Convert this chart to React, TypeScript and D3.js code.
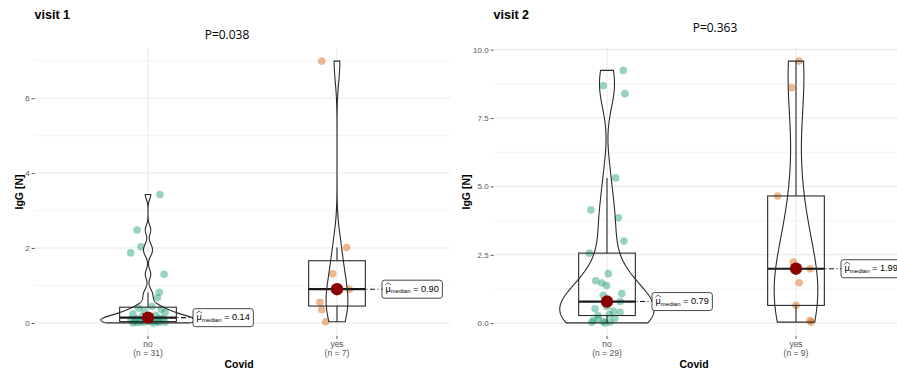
import { useEffect, useRef } from "react";
import * as d3 from "d3";

const categories = ["no", "yes"];
const groupColors = ["#1B9E77", "#D95F02"];

// visit 1: IgG values and the horizontal jitter (category units)
const v1NoValues = [3.43, 2.48, 2.03, 1.87, 1.3, 0.82, 0.67, 0.44, 0.4, 0.36, 0.32, 0.28, 0.24, 0.2, 0.17, 0.14, 0.12, 0.11, 0.1, 0.08, 0.06, 0.05, 0.04, 0.03, 0.03, 0.02, 0.02, 0.01, 0.01, 0.0, 0.0];
const v1NoJitter = [0.063, -0.058, -0.037, -0.092, 0.085, 0.06, 0.05, 0.02, -0.05, 0.07, -0.02, 0.09, -0.08, 0.04, -0.03, 0.0, 0.06, -0.06, 0.08, -0.09, 0.03, -0.04, 0.05, -0.07, 0.01, 0.09, -0.02, 0.06, -0.05, 0.03, -0.08];
const v1YesValues = [6.99, 2.01, 1.31, 0.9, 0.55, 0.35, 0.03];
const v1YesJitter = [-0.081, 0.051, -0.023, 0.065, -0.09, -0.081, -0.06];

// visit 2
const v2NoValues = [9.24, 8.68, 8.39, 5.31, 4.14, 3.85, 3.0, 2.56, 1.81, 1.55, 1.47, 1.38, 1.08, 1.02, 0.79, 0.75, 0.61, 0.53, 0.44, 0.4, 0.32, 0.28, 0.18, 0.16, 0.1, 0.06, 0.04, 0.03, 0.01];
const v2NoJitter = [0.086, -0.02, 0.095, 0.046, -0.085, 0.06, 0.09, -0.094, 0.007, -0.06, -0.028, -0.002, 0.078, -0.02, 0.07, -0.01, -0.002, -0.063, 0.033, 0.069, 0.012, -0.048, 0.042, -0.046, -0.072, -0.02, 0.016, -0.081, -0.01];
const v2YesValues = [9.58, 8.61, 4.65, 2.23, 1.99, 1.48, 0.65, 0.1, 0.04];
const v2YesJitter = [0.016, -0.023, -0.097, -0.014, 0.074, 0.017, 0.0, 0.074, 0.08];

const v1Ticks = [0, 2, 4, 6];
const v1Minor = [1, 3, 5, 7];
const v2Ticks = [0, 2.5, 5, 7.5, 10];
const v2Minor = [1.25, 3.75, 6.25, 8.75];

const panels = [
  {
    title: "visit 1", pText: "P=0.038", pX: 227, pY: 39,
    xRange: [34.6, 450.4], yLabelX: 23, xTitleX: 239,
    ticks: v1Ticks, minor: v1Minor, fmt: d3.format("d"),
    groups: [
      { values: v1NoValues, jitter: v1NoJitter },
      { values: v1YesValues, jitter: v1YesJitter },
    ],
  },
  {
    title: "visit 2", pText: "P=0.363", pX: 715, pY: 32,
    xRange: [493.6, 909.4], yLabelX: 470, xTitleX: 694,
    ticks: v2Ticks, minor: v2Minor, fmt: d3.format(".1f"),
    groups: [
      { values: v2NoValues, jitter: v2NoJitter },
      { values: v2YesValues, jitter: v2YesJitter },
    ],
  },
];

const gauss = (u: number) => Math.exp(-0.5 * u * u) / Math.sqrt(2 * Math.PI);

const bwNrd0 = (s: number[]) => {
  const hi = d3.deviation(s) as number;
  const iqr = (d3.quantileSorted(s, 0.75) as number) - (d3.quantileSorted(s, 0.25) as number);
  let lo = Math.min(hi, iqr / 1.34);
  if (!lo) lo = hi || Math.abs(s[0]) || 1;
  return 0.9 * lo * Math.pow(s.length, -0.2);
};

const density = (values: number[]) => {
  const s = values.slice().sort(d3.ascending);
  const bw = bwNrd0(s);
  const lo = s[0];
  const hi = s[s.length - 1];
  return d3.range(512).map((i) => {
    const y = lo + ((hi - lo) * i) / 511;
    return { y, d: (d3.mean(s, (v) => gauss((y - v) / bw)) as number) / bw };
  });
};

const boxStats = (values: number[]) => {
  const s = values.slice().sort(d3.ascending);
  const q1 = d3.quantileSorted(s, 0.25) as number;
  const med = d3.quantileSorted(s, 0.5) as number;
  const q3 = d3.quantileSorted(s, 0.75) as number;
  const iqr = q3 - q1;
  const lw = d3.min(s.filter((v) => v >= q1 - 1.5 * iqr)) as number;
  const hw = d3.max(s.filter((v) => v <= q3 + 1.5 * iqr)) as number;
  return { q1, med, q3, lw, hw };
};

const App = () => {
  const svgRef = useRef<SVGSVGElement>(null);

  useEffect(() => {
    const svg = d3.select(svgRef.current);
    svg.selectAll("*").remove();
    const top = 48;
    const bottom = 336;
    const sans = "'Liberation Sans', Arial, sans-serif";
    const ink = "#2b2b2b";

    panels.forEach((p) => {
      const all = p.groups.flatMap((g) => g.values);
      const lo = d3.min(all) as number;
      const hi = d3.max(all) as number;
      const pad = (hi - lo) * 0.05;
      const y = d3.scaleLinear().domain([lo - pad, hi + pad]).range([bottom, top]);
      const x = d3.scaleLinear().domain([0.4, 2.6]).range(p.xRange);
      const g = svg.append("g");

      // grid
      g.selectAll(".minor").data(p.minor).enter().append("line")
        .attr("x1", p.xRange[0]).attr("x2", p.xRange[1])
        .attr("y1", (d) => y(d)).attr("y2", (d) => y(d))
        .attr("stroke", "#f0f0f0").attr("stroke-width", 0.8);
      g.selectAll(".major").data(p.ticks).enter().append("line")
        .attr("x1", p.xRange[0]).attr("x2", p.xRange[1])
        .attr("y1", (d) => y(d)).attr("y2", (d) => y(d))
        .attr("stroke", "#e8e8e8").attr("stroke-width", 1);
      g.selectAll(".vgrid").data(categories).enter().append("line")
        .attr("x1", (_, i) => x(i + 1)).attr("x2", (_, i) => x(i + 1))
        .attr("y1", top).attr("y2", bottom)
        .attr("stroke", "#e8e8e8").attr("stroke-width", 1);

      // y axis
      const yAxis = d3.axisLeft(y).tickValues(p.ticks).tickFormat((d) => p.fmt(d as number)).tickSize(3).tickPadding(2);
      const ya = g.append("g").attr("transform", `translate(${p.xRange[0]},0)`).call(yAxis);
      ya.select(".domain").remove();
      ya.selectAll("line").attr("stroke", "#555");
      ya.selectAll("text").attr("fill", "#555").style("font-family", sans).style("font-size", "8px");

      // x axis ticks and labels
      categories.forEach((c, i) => {
        const cx = x(i + 1);
        g.append("line").attr("x1", cx).attr("x2", cx).attr("y1", bottom).attr("y2", bottom + 3).attr("stroke", "#555");
        g.append("text").attr("x", cx).attr("y", 346.5).attr("text-anchor", "middle")
          .attr("fill", "#555").style("font-family", sans).style("font-size", "8.5px").text(c);
        g.append("text").attr("x", cx).attr("y", 355.5).attr("text-anchor", "middle")
          .attr("fill", "#555").style("font-family", sans).style("font-size", "8.5px")
          .text(`(n = ${p.groups[i].values.length})`);
      });

      // titles
      g.append("text").attr("x", p.xTitleX).attr("y", 368).attr("text-anchor", "middle")
        .style("font-family", sans).style("font-weight", "bold").style("font-size", "10.5px").text("Covid");
      g.append("text").attr("transform", `translate(${p.yLabelX},${(top + bottom) / 2}) rotate(-90)`)
        .attr("text-anchor", "middle").style("font-family", sans).style("font-weight", "bold")
        .style("font-size", "10.5px").text("IgG [N]");
      g.append("text").attr("x", p.xRange[0]).attr("y", 19)
        .style("font-family", sans).style("font-weight", "bold").style("font-size", "12.5px").text(p.title);
      g.append("text").attr("x", p.pX).attr("y", p.pY).attr("text-anchor", "middle")
        .style("font-family", "'Open Sans', sans-serif").style("font-size", "12px").text(p.pText);

      // points
      p.groups.forEach((grp, i) => {
        g.selectAll(`.pt${i}`).data(grp.values).enter().append("circle")
          .attr("cx", (_, j) => x(i + 1 + grp.jitter[j]))
          .attr("cy", (d) => y(d))
          .attr("r", 3.8)
          .attr("fill", groupColors[i])
          .attr("fill-opacity", 0.45);
      });

      // boxplots
      p.groups.forEach((grp, i) => {
        const b = boxStats(grp.values);
        const c = i + 1;
        g.append("line").attr("x1", x(c)).attr("x2", x(c)).attr("y1", y(b.q3)).attr("y2", y(b.hw))
          .attr("stroke", ink).attr("stroke-width", 1.1);
        g.append("line").attr("x1", x(c)).attr("x2", x(c)).attr("y1", y(b.q1)).attr("y2", y(b.lw))
          .attr("stroke", ink).attr("stroke-width", 1.1);
        g.append("rect").attr("x", x(c - 0.15)).attr("width", x(c + 0.15) - x(c - 0.15))
          .attr("y", y(b.q3)).attr("height", y(b.q1) - y(b.q3))
          .attr("fill", "none").attr("stroke", ink).attr("stroke-width", 1.1);
        g.append("line").attr("x1", x(c - 0.15)).attr("x2", x(c + 0.15)).attr("y1", y(b.med)).attr("y2", y(b.med))
          .attr("stroke", "#1a1a1a").attr("stroke-width", 2.2);
      });

      // violins, scaled so all have equal area
      const dens = p.groups.map((grp) => density(grp.values));
      const maxD = d3.max(dens.flat(), (d) => d.d) as number;
      dens.forEach((dd, i) => {
        const c = i + 1;
        const area = d3.area<{ y: number; d: number }>()
          .y((d) => y(d.y))
          .x0((d) => x(c - (d.d / maxD) * 0.25))
          .x1((d) => x(c + (d.d / maxD) * 0.25));
        g.append("path").attr("d", area(dd) as string).attr("fill", "none")
          .attr("stroke", ink).attr("stroke-width", 1.1);
      });

      // median point and label
      p.groups.forEach((grp, i) => {
        const b = boxStats(grp.values);
        const cx = x(i + 1);
        const cy = y(b.med);
        const lx = cx + 45;
        g.append("line").attr("x1", cx).attr("x2", lx).attr("y1", cy).attr("y2", cy)
          .attr("stroke", "#1a1a1a").attr("stroke-width", 1.1).attr("stroke-dasharray", "5,2.5,1,2.5");
        g.append("circle").attr("cx", cx).attr("cy", cy).attr("r", 6.2).attr("fill", "#8B0000");

        const lg = g.append("g");
        const rect = lg.append("rect").attr("fill", "white").attr("stroke", "#333").attr("stroke-width", 0.9)
          .attr("rx", 2.5);
        const mu = lg.append("text").attr("x", lx + 3.5).attr("y", cy + 2.5)
          .style("font-family", sans).style("font-size", "9.2px").text("μ");
        const muW = (mu.node() as SVGTextElement).getComputedTextLength();
        lg.append("path")
          .attr("d", `M${lx + 3.3},${cy - 4.3}L${lx + 3.5 + muW / 2},${cy - 6.6}L${lx + 3.7 + muW},${cy - 4.3}`)
          .attr("fill", "none").attr("stroke", "#222").attr("stroke-width", 0.7);
        const rest = lg.append("text").attr("x", lx + 3.5 + muW).attr("y", cy + 2.5)
          .style("font-family", sans).style("font-size", "9.2px");
        rest.append("tspan").attr("dy", 1.5).style("font-size", "6px").text("median");
        rest.append("tspan").attr("dy", -1.5).text(` = ${d3.format(".2f")(b.med)}`);
        const restW = (rest.node() as SVGTextElement).getComputedTextLength();
        rect.attr("x", lx).attr("y", cy - 9).attr("height", 18).attr("width", 3.5 + muW + restW + 3.5);
      });
    });
  }, []);

  return (
    <svg
      ref={svgRef}
      width={897}
      height={372}
      style={{ position: "absolute", left: 0, top: 0, background: "white" }}
    ></svg>
  );
};

export default App;
